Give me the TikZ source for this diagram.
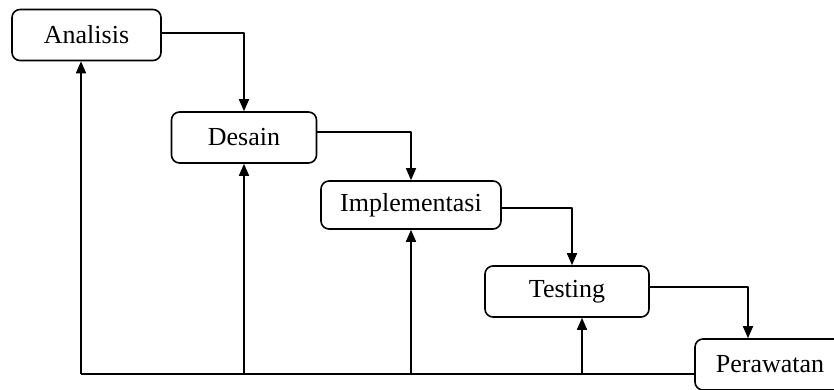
\documentclass[tikz,border=0pt]{standalone}
\usepackage{fontspec}
\setmainfont{Liberation Serif}
\usetikzlibrary{arrows.meta}
\tikzset{
  tahap/.style={draw, line width=1.6pt, rounded corners=8pt, inner sep=0pt,
    minimum height=51pt, font=\fontsize{26}{31}\selectfont, fill=white},
  alur/.style={line width=1.6pt, -{Triangle[length=12pt,width=10pt]}}
}
\begin{document}
\begin{tikzpicture}[x=1pt, y=-1pt, line join=round]
  \useasboundingbox (0,0) rectangle (834,389);
  \node[tahap, minimum width=149pt] (A) at (86.5,35) {Analisis};
  \node[tahap, minimum width=145pt] (D) at (244,137.5) {Desain};
  \node[tahap, minimum width=180pt, minimum height=48pt] (I) at (411,205) {Implementasi};
  \node[tahap, minimum width=164pt] (T) at (567,291.5) {Testing};
  \node[tahap, minimum width=150pt] (P) at (770,364.5) {Perawatan};
  % alur turun
  \draw[alur] ([yshift=2pt]A.east) -| (D.north);
  \draw[alur] ([yshift=5.5pt]D.east) -| (I.north);
  \draw[alur] ([yshift=-3pt]I.east) -| ([xshift=5pt]T.north);
  \draw[alur] ([yshift=4.5pt]T.east) -| ([xshift=-22pt]P.north);
  % umpan balik
  \coordinate (bl) at (81,374);
  \draw[line width=1.6pt] (bl) -- (bl -| P.west);
  \draw[alur] (bl) -- (bl |- A.south);
  \draw[alur] (bl -| D.south) -- (D.south);
  \draw[alur] (bl -| I.south) -- (I.south);
  \draw[alur] (bl -| {582,0}) -- ([xshift=15pt]T.south);
\end{tikzpicture}
\end{document}
